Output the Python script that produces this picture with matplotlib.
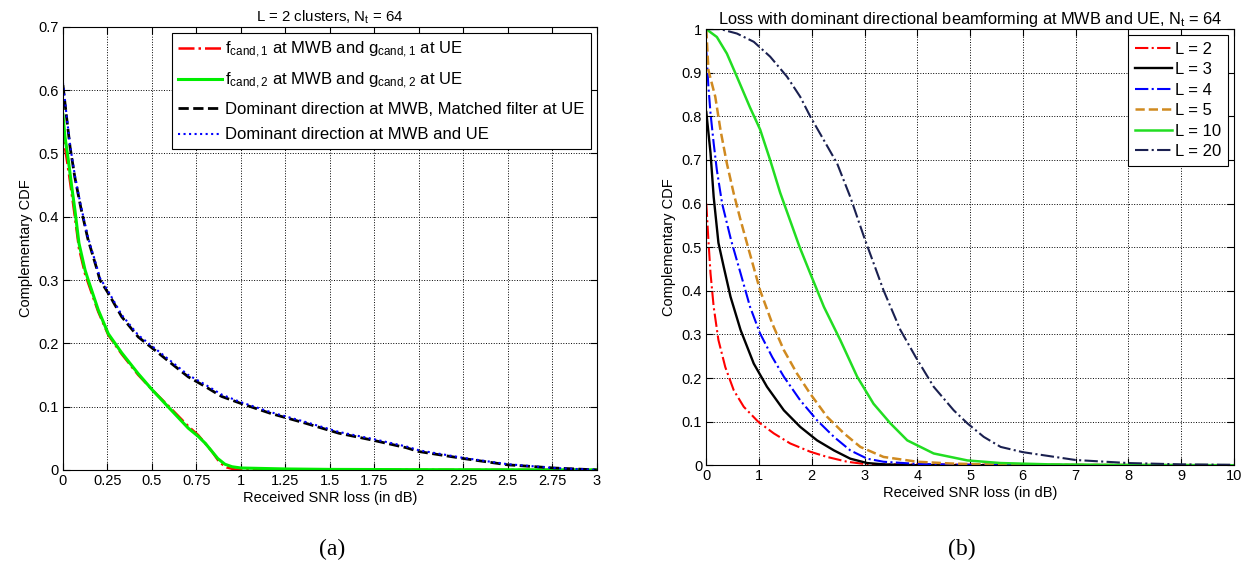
import numpy as np
import matplotlib.pyplot as plt

plt.rcParams['font.family'] = ['Liberation Sans', 'DejaVu Sans']
plt.rcParams['mathtext.default'] = 'regular'
plt.rcParams['font.size'] = 10.5

# (a) L = 2 clusters
x_c1 = [0, 0.011, 0.03, 0.05, 0.067, 0.09, 0.124, 0.142, 0.198, 0.255, 0.33, 0.423, 0.5, 0.6,
        0.704, 0.76, 0.835, 0.88, 0.92, 0.96, 1.0, 3.0]
y_c1 = [0.55, 0.51, 0.475, 0.435, 0.40, 0.35, 0.31, 0.295, 0.25, 0.213, 0.183, 0.15, 0.127, 0.099,
        0.069, 0.055, 0.03, 0.012, 0.004, 0.001, 0.0, 0.0]
x_c2 = [0, 0.011, 0.03, 0.049, 0.067, 0.09, 0.124, 0.142, 0.198, 0.255, 0.33, 0.423, 0.5, 0.6,
        0.704, 0.76, 0.8, 0.835, 0.87, 0.91, 0.95, 1.0, 1.25, 1.5, 2.0, 3.0]
y_c2 = [0.561, 0.527, 0.49, 0.448, 0.411, 0.358, 0.316, 0.30, 0.253, 0.215, 0.185, 0.152, 0.127, 0.097,
        0.066, 0.053, 0.042, 0.03, 0.018, 0.009, 0.005, 0.003, 0.0015, 0.0008, 0.0004, 0.0]
x_dom = [0, 0.02, 0.04, 0.067, 0.1, 0.14, 0.19, 0.208, 0.255, 0.33, 0.423, 0.517, 0.61, 0.704, 0.798,
         0.892, 1.0, 1.17, 1.36, 1.55, 1.74, 1.93, 2.0, 2.25, 2.5, 2.76, 3.0]
y_mf = [0.608, 0.558, 0.51, 0.462, 0.415, 0.365, 0.318, 0.30, 0.279, 0.242, 0.21, 0.189, 0.168, 0.147,
        0.132, 0.116, 0.105, 0.089, 0.074, 0.058, 0.047, 0.035, 0.029, 0.018, 0.008, 0.003, 0.0]
y_dd = [0.612, 0.561, 0.513, 0.465, 0.418, 0.368, 0.321, 0.303, 0.282, 0.245, 0.213, 0.192, 0.171, 0.15,
        0.135, 0.119, 0.107, 0.091, 0.076, 0.06, 0.049, 0.037, 0.031, 0.019, 0.009, 0.003, 0.0]

# (b) number of clusters L
x_L2 = [0, 0.04, 0.08, 0.14, 0.23, 0.36, 0.52, 0.71, 0.99, 1.28, 1.59, 1.97, 2.29, 2.67, 3.05, 10]
y_L2 = [0.60, 0.516, 0.44, 0.363, 0.287, 0.225, 0.172, 0.134, 0.099, 0.073, 0.05, 0.031, 0.019,
        0.008, 0.002, 0.0]
x_L3 = [0, 0.08, 0.14, 0.23, 0.33, 0.46, 0.65, 0.90, 1.15, 1.47, 1.78, 2.1, 2.42, 2.73, 3.05, 3.36,
        4.0, 10]
y_L3 = [0.81, 0.716, 0.615, 0.51, 0.455, 0.386, 0.31, 0.233, 0.18, 0.126, 0.088, 0.057, 0.034,
        0.015, 0.005, 0.002, 0.0, 0.0]
x_L4 = [0, 0.04, 0.08, 0.14, 0.2, 0.30, 0.47, 0.65, 0.83, 1.02, 1.25, 1.47, 1.78, 2.1, 2.42, 2.73,
        3.05, 3.36, 4.0, 5.0, 10]
y_L4 = [0.95, 0.868, 0.807, 0.738, 0.677, 0.60, 0.516, 0.44, 0.363, 0.302, 0.248, 0.203, 0.149,
        0.103, 0.065, 0.034, 0.015, 0.008, 0.003, 0.001, 0.0]
x_L5 = [0, 0.04, 0.17, 0.27, 0.39, 0.52, 0.65, 0.78, 1.02, 1.25, 1.47, 1.72, 1.97, 2.29, 2.61, 2.92,
        3.36, 4.0, 4.63, 5.5, 10]
y_L5 = [1.0, 0.906, 0.845, 0.768, 0.692, 0.623, 0.562, 0.505, 0.401, 0.325, 0.264, 0.21, 0.164,
        0.111, 0.073, 0.042, 0.019, 0.008, 0.004, 0.001, 0.0]
x_L10 = [0, 0.2, 0.39, 0.58, 0.83, 1.02, 1.21, 1.40, 1.77, 1.97, 2.23, 2.54, 2.86, 3.17, 3.49, 3.81,
         4.31, 4.95, 5.58, 6.5, 7.5, 10]
y_L10 = [1.0, 0.982, 0.944, 0.891, 0.82, 0.77, 0.70, 0.625, 0.50, 0.44, 0.363, 0.287, 0.203,
         0.141, 0.096, 0.057, 0.027, 0.011, 0.005, 0.002, 0.001, 0.0]
x_L20 = [0, 0.27, 0.58, 0.90, 1.21, 1.53, 1.78, 1.97, 2.23, 2.48, 2.73, 3.0, 3.36, 3.68, 3.97, 4.31,
         4.69, 4.95, 5.26, 5.58, 6.0, 7.0, 8.0, 9.0, 10]
y_L20 = [1.0, 1.0, 0.99, 0.971, 0.937, 0.891, 0.845, 0.80, 0.745, 0.692, 0.615, 0.52, 0.401, 0.31,
         0.248, 0.18, 0.126, 0.096, 0.065, 0.042, 0.03, 0.012, 0.005, 0.002, 0.001]


def matlab_axes(ax):
    ax.grid(True, color='black', linestyle=':', linewidth=0.7)
    ax.tick_params(direction='in', top=True, right=True, length=5, pad=3)
    for s in ax.spines.values():
        s.set_linewidth(0.8)


fig = plt.figure(figsize=(12.59, 5.83), dpi=100)

ax1 = fig.add_axes([0.050, 0.194, 0.424, 0.760])
ax1.plot(x_c1, y_c1, color='red', linestyle='-.', lw=1.8,
         label=r'$f_{cand,1}$ at MWB and $g_{cand,1}$ at UE')
ax1.plot(x_c2, y_c2, color='#00ee00', linestyle='-', lw=2.2,
         label=r'$f_{cand,2}$ at MWB and $g_{cand,2}$ at UE')
ax1.plot(x_dom, y_mf, color='black', linestyle='--', lw=2.0,
         label='Dominant direction at MWB, Matched filter at UE')
ax1.plot(x_dom, y_dd, color='blue', linestyle=':', lw=1.5,
         label='Dominant direction at MWB and UE')
ax1.set_xlim(0, 3)
ax1.set_ylim(0, 0.7)
ax1.set_xticks(np.arange(0, 3.01, 0.25))
ax1.set_xticklabels(['%g' % t for t in np.arange(0, 3.01, 0.25)])
ax1.set_yticks(np.arange(0, 0.71, 0.1))
ax1.set_yticklabels(['%g' % round(t, 1) for t in np.arange(0, 0.71, 0.1)])
matlab_axes(ax1)
ax1.set_title(r'L = 2 clusters, N$_t$ = 64', fontsize=10.8, pad=4)
ax1.set_xlabel('Received SNR loss (in dB)', labelpad=2)
ax1.set_ylabel('Complementary CDF', labelpad=4)
leg1 = ax1.legend(loc='upper right', fancybox=False, edgecolor='black',
                  framealpha=1, handlelength=2.6, handletextpad=0.2,
                  labelspacing=0.65, borderaxespad=0.35, fontsize=12)
leg1.get_frame().set_linewidth(0.8)

ax2 = fig.add_axes([0.561, 0.202, 0.419, 0.748])
ax2.plot(x_L2, y_L2, color='red', linestyle='-.', lw=1.5, label='L = 2')
ax2.plot(x_L3, y_L3, color='black', linestyle='-', lw=1.7, label='L = 3')
ax2.plot(x_L4, y_L4, color='blue', linestyle='-.', lw=1.5, label='L = 4')
ax2.plot(x_L5, y_L5, color='#d08a20', linestyle='--', lw=1.8, label='L = 5')
ax2.plot(x_L10, y_L10, color='#22dd22', linestyle='-', lw=1.8, label='L = 10')
ax2.plot(x_L20, y_L20, color='#1a2050', linestyle='-.', lw=1.5, label='L = 20')
ax2.set_xlim(0, 10)
ax2.set_ylim(0, 1)
ax2.set_xticks(range(0, 11))
ax2.set_yticks(np.arange(0, 1.01, 0.1))
ax2.set_yticklabels(['%g' % round(t, 1) for t in np.arange(0, 1.01, 0.1)])
matlab_axes(ax2)
ax2.set_title(r'Loss with dominant directional beamforming at MWB and UE, N$_t$ = 64',
              fontsize=11.8, pad=4)
ax2.set_xlabel('Received SNR loss (in dB)', labelpad=2)
ax2.set_ylabel('Complementary CDF', labelpad=4)
leg2 = ax2.legend(loc='upper right', fancybox=False, edgecolor='black',
                  framealpha=1, handlelength=2.2, handletextpad=0.2,
                  labelspacing=0.33, borderaxespad=0.35, fontsize=12)
leg2.get_frame().set_linewidth(0.8)

fig.text(0.264, 0.048, '(a)', family='Liberation Serif', fontsize=17, ha='center')
fig.text(0.764, 0.048, '(b)', family='Liberation Serif', fontsize=17, ha='center')

fig.savefig('out.png', dpi=100, facecolor='white')
